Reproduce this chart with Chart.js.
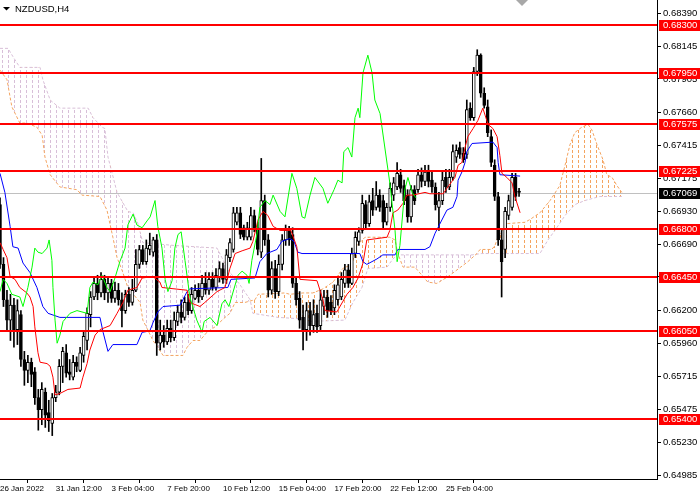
<!DOCTYPE html>
<html>
<head>
<meta charset="utf-8">
<script src="https://cdn.jsdelivr.net/npm/chart.js@4.4.1/dist/chart.umd.min.js"></script>
<style>
html,body{margin:0;padding:0;background:#ffffff;}
#wrap{width:700px;height:500px;}
</style>
</head>
<body>
<div id="wrap"><canvas id="c" width="700" height="500"></canvas></div>
<script>
// ---- Data (NZDUSD, H4) ----
const symbolTitle = 'NZDUSD,H4';
const dateIdx = [0,16,32,48,64,80,96,112,128];
const dateLabels = ['26 Jan 2022','31 Jan 12:00','3 Feb 04:00','7 Feb 20:00','10 Feb 12:00','15 Feb 04:00','17 Feb 20:00','22 Feb 12:00','25 Feb 04:00'];
const yTicks = [0.68390,0.68145,0.67905,0.67660,0.67415,0.67175,0.66930,0.66690,0.66450,0.66200,0.65960,0.65715,0.65475,0.65230,0.64985];
const levels = [0.68300,0.67950,0.67575,0.67225,0.66800,0.66450,0.66050,0.65400];
const bidPrice = 0.67069;

const openV = [
0.6698,0.6654,0.6628,0.6613,0.6624,0.6606,0.6617,0.6584,0.6576,0.6582,
0.6575,0.6556,0.6547,0.6560,0.6545,0.6537,0.6556,0.6560,0.6579,0.6589,
0.6575,0.6571,0.6582,0.6576,0.6587,0.6598,0.6617,0.6630,0.6640,0.6633,
0.6643,0.6633,0.6640,0.6629,0.6635,0.6628,0.6620,0.6632,0.6626,0.6635,
0.6654,0.6665,0.6656,0.6665,0.6663,0.6672,0.6596,0.6602,0.6597,0.6607,
0.6600,0.6612,0.6619,0.6615,0.6626,0.6620,0.6629,0.6635,0.6630,0.6640,
0.6635,0.6643,0.6637,0.6644,0.6651,0.6643,0.6659,0.6665,0.6685,0.6692,
0.6681,0.6674,0.6674,0.6690,0.6681,0.6663,0.6701,0.6672,0.6635,0.6651,
0.6634,0.6654,0.6672,0.6679,0.6676,0.6640,0.6629,0.6615,0.6606,0.6620,
0.6609,0.6618,0.6609,0.6623,0.6630,0.6626,0.6622,0.6628,0.6630,0.6640,
0.6650,0.6640,0.6662,0.6671,0.6679,0.6698,0.6684,0.6701,0.6696,0.6705,
0.6701,0.6685,0.6696,0.6705,0.6711,0.6720,0.6712,0.6705,0.6689,0.6709,
0.6709,0.6720,0.6715,0.6722,0.6716,0.6711,0.6696,0.6701,0.6718,0.6711,
0.6718,0.6733,0.6740,0.6736,0.6735,0.6769,0.6762,0.6796,0.6808,0.6780,
0.6770,0.6748,0.6727,0.6704,0.6672,0.6665,0.6690,0.6696,0.6718,0.6708];
const highV = [
0.6703,0.6659,0.6635,0.6632,0.6629,0.6628,0.6620,0.6590,0.6587,0.6585,
0.6578,0.6562,0.6567,0.6563,0.6554,0.6559,0.6565,0.6584,0.6593,0.6595,
0.6584,0.6587,0.6586,0.6593,0.6604,0.6622,0.6634,0.6645,0.6646,0.6648,
0.6646,0.6645,0.6643,0.6641,0.6640,0.6633,0.6635,0.6637,0.6643,0.6665,
0.6668,0.6668,0.6672,0.6677,0.6674,0.6676,0.6613,0.6609,0.6613,0.6613,
0.6619,0.6624,0.6628,0.6630,0.6632,0.6637,0.6639,0.6640,0.6646,0.6648,
0.6648,0.6648,0.6651,0.6656,0.6655,0.6665,0.6673,0.6696,0.6696,0.6696,
0.6683,0.6685,0.6696,0.6694,0.6685,0.6732,0.6705,0.6676,0.6656,0.6657,
0.6661,0.6676,0.6683,0.6682,0.6681,0.6644,0.6634,0.6624,0.6626,0.6626,
0.6628,0.6624,0.6635,0.6635,0.6635,0.6631,0.6639,0.6644,0.6648,0.6654,
0.6654,0.6666,0.6678,0.6681,0.6705,0.6701,0.6705,0.6710,0.6715,0.6709,
0.6705,0.6699,0.6714,0.6718,0.6729,0.6724,0.6716,0.6709,0.6712,0.6712,
0.6724,0.6725,0.6727,0.6727,0.6722,0.6714,0.6707,0.6722,0.6724,0.6724,
0.6742,0.6742,0.6744,0.6740,0.6775,0.6773,0.6799,0.6812,0.6809,0.6784,
0.6775,0.6753,0.6731,0.6707,0.6679,0.6696,0.6705,0.6721,0.6721,0.6710];
const lowV = [
0.6651,0.6623,0.6606,0.6598,0.6593,0.6595,0.6579,0.6565,0.6567,0.6564,
0.6551,0.6532,0.6536,0.6534,0.6531,0.6528,0.6553,0.6558,0.6567,0.6571,
0.6569,0.6569,0.6575,0.6575,0.6582,0.6591,0.6608,0.6628,0.6628,0.6630,
0.6628,0.6626,0.6626,0.6626,0.6624,0.6608,0.6618,0.6623,0.6624,0.6634,
0.6651,0.6654,0.6654,0.6661,0.6660,0.6587,0.6591,0.6593,0.6595,0.6597,
0.6598,0.6609,0.6611,0.6613,0.6617,0.6618,0.6628,0.6626,0.6628,0.6632,
0.6632,0.6635,0.6635,0.6641,0.6640,0.6640,0.6656,0.6663,0.6683,0.6673,
0.6672,0.6672,0.6672,0.6678,0.6661,0.6659,0.6668,0.6630,0.6632,0.6629,
0.6631,0.6650,0.6668,0.6668,0.6637,0.6624,0.6607,0.6591,0.6598,0.6602,
0.6604,0.6604,0.6606,0.6617,0.6615,0.6617,0.6617,0.6624,0.6628,0.6637,
0.6637,0.6639,0.6659,0.6668,0.6677,0.6681,0.6682,0.6690,0.6694,0.6693,
0.6681,0.6683,0.6693,0.6701,0.6709,0.6707,0.6698,0.6685,0.6685,0.6698,
0.6707,0.6711,0.6712,0.6711,0.6707,0.6694,0.6679,0.6698,0.6707,0.6709,
0.6716,0.6729,0.6732,0.6729,0.6732,0.6760,0.6760,0.6793,0.6777,0.6769,
0.6748,0.6726,0.6701,0.6668,0.6630,0.6659,0.6687,0.6694,0.6701,0.6704];
const closeV = [
0.6654,0.6628,0.6613,0.6624,0.6606,0.6620,0.6584,0.6576,0.6582,0.6573,
0.6556,0.6547,0.6562,0.6543,0.6539,0.6556,0.6560,0.6579,0.6590,0.6574,
0.6573,0.6582,0.6579,0.6589,0.6601,0.6618,0.6630,0.6640,0.6633,0.6643,
0.6633,0.6640,0.6629,0.6635,0.6628,0.6620,0.6632,0.6626,0.6635,0.6654,
0.6665,0.6656,0.6666,0.6668,0.6672,0.6596,0.6602,0.6597,0.6607,0.6600,
0.6613,0.6619,0.6615,0.6626,0.6620,0.6632,0.6635,0.6630,0.6640,0.6635,
0.6643,0.6637,0.6646,0.6651,0.6643,0.6661,0.6670,0.6692,0.6692,0.6676,
0.6674,0.6681,0.6690,0.6681,0.6665,0.6701,0.6672,0.6635,0.6651,0.6634,
0.6654,0.6672,0.6679,0.6672,0.6640,0.6628,0.6613,0.6606,0.6620,0.6609,
0.6617,0.6608,0.6628,0.6630,0.6620,0.6620,0.6635,0.6639,0.6643,0.6650,
0.6640,0.6662,0.6674,0.6678,0.6699,0.6684,0.6700,0.6694,0.6705,0.6696,
0.6685,0.6696,0.6710,0.6714,0.6721,0.6710,0.6701,0.6689,0.6709,0.6701,
0.6720,0.6715,0.6722,0.6715,0.6711,0.6698,0.6701,0.6716,0.6711,0.6718,
0.6737,0.6738,0.6735,0.6731,0.6768,0.6762,0.6796,0.6808,0.6780,0.6771,
0.6751,0.6729,0.6704,0.6672,0.6656,0.6693,0.6701,0.6718,0.6704,0.67069];

// Ichimoku lines, read as breakpoints (bar position, price)
const tenkanX = [0,0.9,2,2.9,4.3,5.7,7.7,8.6,9.5,10,10.9,11.5,13.5,14.4,15.2,15.8,17.2,19.5,23,23.8,25,25.8,27.3,28.7,31.6,33.6,35.3,36.7,39.3,40.8,43.9,45.9,46.5,53.7,54.5,57.4,58.8,62.3,64.6,66,67.5,69.5,71.8,72.6,74.1,75.5,76.9,78.4,80.4,83.5,85.2,86.1,91,92.7,93.3,96.7,99.6,101.3,102.8,104.2,105.3,111.1,111.9,112.8,114.2,115.7,116.8,118.5,122,123.4,127.2,128.3,129.7,130.6,131.5,132.6,133.5,134.3,135.8,137.2,138.6,140.1,141.5,142.7,143.5,144.1,145.5,147,147.8,149.3];
const tenkanV = [0.6670,0.6665,0.6659,0.6645,0.6643,0.6637,0.6633,0.6630,0.6623,0.6608,0.6589,0.6582,0.6581,0.6579,0.6571,0.6558,0.6559,0.6562,0.6563,0.6571,0.6581,0.6591,0.6602,0.6606,0.6609,0.6618,0.6626,0.6635,0.6637,0.6644,0.6645,0.6641,0.6637,0.6635,0.6626,0.6623,0.6626,0.6634,0.6637,0.6651,0.6662,0.6664,0.6666,0.6671,0.6687,0.6693,0.6690,0.6682,0.6679,0.6679,0.6667,0.6643,0.6642,0.6628,0.6620,0.6619,0.6632,0.6637,0.6644,0.6655,0.6672,0.6674,0.6679,0.6692,0.6694,0.6699,0.6705,0.6705,0.6707,0.6706,0.6706,0.6710,0.6715,0.6718,0.6727,0.6729,0.6740,0.6748,0.6754,0.6760,0.6769,0.6757,0.6754,0.6748,0.6734,0.6721,0.6718,0.6714,0.6704,0.6692];
const kijunX = [0,1.4,2.9,3.7,5.2,6.6,8.6,10.6,12.3,13.8,17.2,19.2,28.7,29.6,31,32.4,39.3,40.8,43,43.9,45.3,46.8,51.7,53.7,54.5,65.4,66.3,73.2,74.6,76.6,79.5,80.9,83.2,84.4,85.5,86.7,103.3,104.2,105.3,108.2,109.9,113.4,114.2,122,123.4,124.9,125.7,128.3,130,131.2,131.5,132.6,133.5,134,135.5,141.5,142.7,143,143.5,149.3];
const kijunV = [0.6721,0.6707,0.6682,0.6667,0.6666,0.6655,0.6648,0.6637,0.6623,0.6618,0.6615,0.6615,0.6615,0.6604,0.6590,0.6595,0.6595,0.6604,0.6605,0.6611,0.6619,0.6623,0.6624,0.6634,0.6636,0.6637,0.6643,0.6644,0.6656,0.6662,0.6665,0.6671,0.6673,0.6671,0.6663,0.6662,0.6662,0.6656,0.6654,0.6658,0.6661,0.6661,0.6665,0.6665,0.6667,0.6677,0.6681,0.6694,0.6696,0.6704,0.6716,0.6722,0.6729,0.6737,0.6743,0.6744,0.6740,0.6729,0.6720,0.6719];
const chikouX = [0,0.9,2,3.4,5.7,6.6,8,9.2,10,10.9,12.1,13.5,14.1,14.9,15.2,15.8,16.4,17.2,18.1,20.1,22.1,25,25.8,26.7,28.1,29.3,30.7,31.6,33,34.4,35.9,36.7,38.2,39.3,40.8,42.2,43.1,44.5,45.3,46.5,47.4,48.2,49.4,50.2,51.1,52,53.1,54.5,56.5,58,58.6,60.3,62.3,63.7,64.6,65.7,68.3,69.5,70.9,71.5,72.3,73.8,74.6,76.1,77.5,78.4,80.4,81.8,83.8,85.2,86.7,87.5,89,90.4,92.7,94.1,95.9,97,98.2,98.7,99.9,101,101.9,102.8,103.3,104.2,105.6,106.8,107.6,109.1,111.9,113.4,114,114.8,116.2,117.1,118.3,119.4];
const chikouV = [0.6634,0.6643,0.6640,0.6632,0.6630,0.6623,0.6637,0.6652,0.6666,0.6663,0.6662,0.6666,0.6672,0.6657,0.6637,0.6613,0.6596,0.6602,0.6612,0.6618,0.6620,0.6618,0.6637,0.6641,0.6639,0.6646,0.6637,0.6634,0.6644,0.6656,0.6666,0.6683,0.6691,0.6683,0.6681,0.6686,0.6689,0.6701,0.6682,0.6666,0.6643,0.6634,0.6642,0.6666,0.6676,0.6678,0.6657,0.6630,0.6613,0.6604,0.6612,0.6615,0.6609,0.6625,0.6628,0.6623,0.6646,0.6649,0.6646,0.6640,0.6657,0.6677,0.6696,0.6701,0.6698,0.6705,0.6693,0.6689,0.6721,0.6710,0.6689,0.6688,0.6705,0.6718,0.6710,0.6699,0.6709,0.6716,0.6714,0.6737,0.6740,0.6733,0.6762,0.6769,0.6762,0.6795,0.6808,0.6795,0.6775,0.6765,0.6714,0.6679,0.6656,0.6668,0.6709,0.6718,0.6707,0.6703];
const spanAX = [0,2,3.4,5.7,7.7,10.6,12.1,12.9,14.4,17.2,22.1,23.5,28.7,30.7,32.4,33.6,35,36.7,40.2,41,42.2,43.9,45.3,46.8,52.5,53.7,55.4,57.4,59.4,61.7,64.6,66,67.5,70.3,73.2,74.1,81.8,83.2,87,89.8,92.7,95.6,98.4,101,102.5,104.8,111.9,113.4,114.2,115.7,119.1,122.8,125.4,128.6,131.2,134.3,136.9,137.8,141.2,142.1,142.9,145.5,150.7,152.1,155,157.9,160.7,162.2,163.6,165,167,168.8,169.9,171.4,173.1,174.2,175.7,177.1,178.5];
const spanAV = [0.6797,0.6790,0.6770,0.6758,0.6758,0.6755,0.6749,0.6733,0.6720,0.6711,0.6709,0.6705,0.6704,0.6694,0.6674,0.6659,0.6650,0.6637,0.6626,0.6613,0.6607,0.6598,0.6593,0.6587,0.6587,0.6593,0.6598,0.6598,0.6604,0.6608,0.6615,0.6618,0.6626,0.6626,0.6628,0.6632,0.6633,0.6632,0.6633,0.6633,0.6636,0.6641,0.6651,0.6654,0.6668,0.6674,0.6674,0.6672,0.6662,0.6652,0.6652,0.6641,0.6640,0.6645,0.6650,0.6656,0.6662,0.6665,0.6665,0.6668,0.6674,0.6684,0.6685,0.6687,0.6692,0.6701,0.6712,0.6727,0.6742,0.6751,0.6755,0.6757,0.6753,0.6742,0.6731,0.6720,0.6718,0.6712,0.6707];
const spanBX = [0,2.3,3.7,5.7,11.5,12.3,14.4,17.2,25.3,26.7,29.3,30.1,31,33.6,36.7,38.2,39.6,41,49.7,62.3,63.7,65.4,68.9,71.8,72.6,79.8,86.1,89,99,101.3,103.9,105.6,111.1,112.5,113.9,115.7,135.5,138.3,155,157.3,159.3,162.2,165,167.9,172.2,178.5];
const spanBV = [0.6813,0.6813,0.6807,0.6799,0.6799,0.6790,0.6775,0.6769,0.6769,0.6762,0.6755,0.6754,0.6733,0.6707,0.6693,0.6692,0.6684,0.6670,0.6668,0.6666,0.6659,0.6650,0.6639,0.6628,0.6618,0.6615,0.6614,0.6612,0.6613,0.6626,0.6637,0.6651,0.6652,0.6657,0.6661,0.6661,0.6661,0.6662,0.6662,0.6672,0.6679,0.6690,0.6698,0.6701,0.6704,0.6704];

// ---- Rendering ----
Chart.defaults.font.family = 'Liberation Sans';
const canvas = document.getElementById('c');
const ctx = canvas.getContext('2d');

function hatch(color) {
  const t = document.createElement('canvas');
  t.width = 6; t.height = 5;
  const g = t.getContext('2d');
  g.fillStyle = color;
  g.fillRect(2, 0, 1, 3);
  return ctx.createPattern(t, 'repeat');
}
const orangeHatch = hatch('#F4A460');
const thistleHatch = hatch('#D8BFD8');

const pts = (xs, vs) => xs.map((x, i) => ({x: x, y: vs[i]}));
const barIdx = closeV.map((_, i) => i);
const isBull = i => closeV[i] >= openV[i];

const overlay = {
  id: 'overlay',
  beforeDatasetsDraw(chart) {
    const {ctx, chartArea: a, scales: {y}} = chart;
    const py = Math.round(y.getPixelForValue(bidPrice)) + 0.5;
    ctx.save();
    ctx.strokeStyle = '#C0C0C0';
    ctx.lineWidth = 1;
    ctx.beginPath(); ctx.moveTo(a.left, py); ctx.lineTo(a.right, py); ctx.stroke();
    ctx.restore();
  },
  afterDatasetsDraw(chart) {
    const {ctx, chartArea: a, scales: {y}} = chart;
    ctx.save();
    ctx.strokeStyle = '#FF0000';
    ctx.lineWidth = 2;
    levels.forEach(v => {
      const py = Math.round(y.getPixelForValue(v));
      ctx.beginPath(); ctx.moveTo(a.left, py); ctx.lineTo(a.right, py); ctx.stroke();
    });
    ctx.restore();
  },
  afterDraw(chart) {
    const {ctx, chartArea: a, scales: {y}} = chart;
    ctx.save();
    ctx.font = '9.5px "Liberation Sans"';
    ctx.textBaseline = 'middle';
    ctx.textAlign = 'left';
    const tag = (v, bg) => {
      const py = y.getPixelForValue(v);
      ctx.fillStyle = bg;
      ctx.fillRect(a.right + 2, Math.round(py) - 5, 700 - a.right - 2, 11);
      ctx.fillStyle = '#FFFFFF';
      ctx.fillText(v.toFixed(5), a.right + 6, Math.round(py) + 0.5);
    };
    levels.forEach(v => tag(v, '#FF0000'));
    tag(bidPrice, '#000000');
    // title
    ctx.fillStyle = '#000000';
    ctx.beginPath(); ctx.moveTo(3, 7); ctx.lineTo(10, 7); ctx.lineTo(6.5, 10.5); ctx.closePath(); ctx.fill();
    ctx.font = '9.5px "Liberation Sans"';
    ctx.textBaseline = 'alphabetic';
    ctx.fillText(symbolTitle, 15, 12);
    // chart shift marker
    ctx.fillStyle = '#A8A8A8';
    ctx.beginPath(); ctx.moveTo(516, 0); ctx.lineTo(528, 0); ctx.lineTo(522, 6); ctx.closePath(); ctx.fill();
    ctx.restore();
  }
};

new Chart(ctx, {
  type: 'line',
  data: {
    datasets: [
      {label: 'Chikou', data: pts(chikouX, chikouV), borderColor: '#00FF00', borderWidth: 1, pointRadius: 0, tension: 0, fill: false, order: 1},
      {label: 'Tenkan', data: pts(tenkanX, tenkanV), borderColor: '#FF0000', borderWidth: 1, pointRadius: 0, tension: 0, fill: false, order: 2},
      {label: 'Kijun', data: pts(kijunX, kijunV), borderColor: '#0000FF', borderWidth: 1, pointRadius: 0, tension: 0, fill: false, order: 3},
      {type: 'bar', label: 'Body', data: barIdx.map(i => ({x: i, y: [openV[i], closeV[i]]})),
        backgroundColor: c => isBull(c.dataIndex) ? '#FFFFFF' : '#000000',
        borderColor: '#000000', borderWidth: 1, borderSkipped: false, barThickness: 3, grouped: false, order: 4},
      {type: 'bar', label: 'Wick', data: barIdx.map(i => ({x: i, y: [lowV[i], highV[i]]})),
        backgroundColor: '#000000', borderWidth: 0, barThickness: 1, grouped: false, order: 5},
      {label: 'Senkou A', data: pts(spanAX, spanAV), borderColor: '#F4A460', borderDash: [3, 2], borderWidth: 1, pointRadius: 0, tension: 0,
        fill: {target: '+1', above: orangeHatch, below: thistleHatch}, order: 6},
      {label: 'Senkou B', data: pts(spanBX, spanBV), borderColor: '#D8BFD8', borderDash: [3, 2], borderWidth: 1, pointRadius: 0, tension: 0, fill: false, order: 7}
    ]
  },
  options: {
    responsive: false,
    animation: false,
    devicePixelRatio: 1,
    events: [],
    layout: {padding: 0},
    plugins: {legend: {display: false}, tooltip: {enabled: false}},
    scales: {
      x: {
        type: 'linear', min: 0, max: 188.6, offset: false, position: 'bottom',
        afterBuildTicks: s => { s.ticks = dateIdx.map(v => ({value: v})); },
        afterFit: s => { s.height = 21; s.paddingLeft = 0; s.paddingRight = 0; },
        ticks: {autoSkip: false, maxRotation: 0, minRotation: 0, align: 'start', padding: 1, color: '#000000',
          font: {size: 8, family: 'Liberation Sans'}, callback: (v, i) => dateLabels[i]},
        grid: {drawOnChartArea: false, drawTicks: true, tickLength: 4, color: '#000000', tickColor: '#000000'},
        border: {display: true, color: '#000000', width: 1}
      },
      y: {
        type: 'linear', position: 'right', min: 0.649606, max: 0.68486,
        afterBuildTicks: s => { s.ticks = yTicks.map(v => ({value: v})); },
        afterFit: s => { s.width = 43; s.paddingTop = 0; s.paddingBottom = 0; },
        ticks: {autoSkip: false, padding: 2, color: '#000000', font: {size: 9.5, family: 'Liberation Sans'},
          callback: v => Number(v).toFixed(5)},
        grid: {drawOnChartArea: false, drawTicks: true, tickLength: 4, color: '#000000', tickColor: '#000000'},
        border: {display: true, color: '#000000', width: 1}
      }
    }
  },
  plugins: [overlay]
});
</script>
</body>
</html>
